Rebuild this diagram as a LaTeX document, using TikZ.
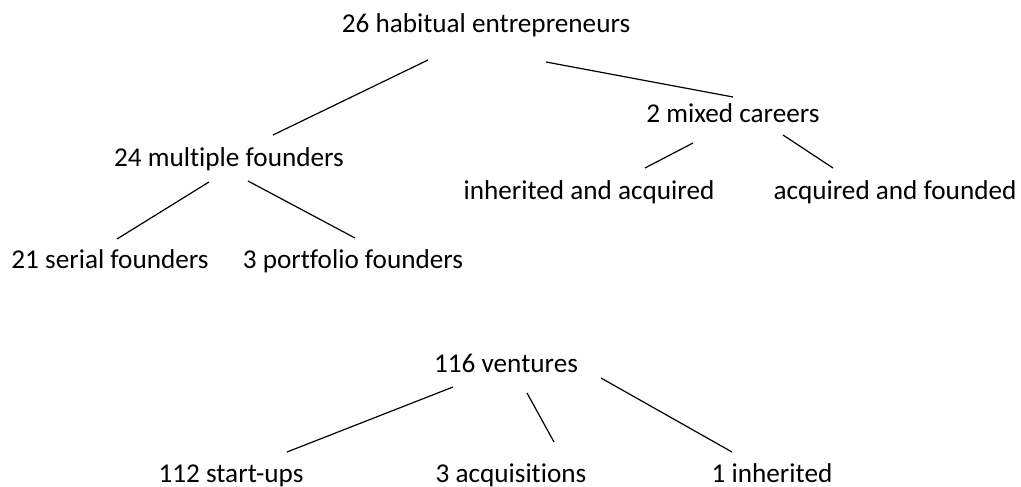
\documentclass[tikz,border=0pt]{standalone}
\usepackage{fontspec}
\setmainfont{Carlito}[Ligatures={NoCommon}]
\begin{document}
\begin{tikzpicture}[x=1pt,y=-1pt,
  lbl/.style={inner sep=0pt, anchor=base, font=\fontsize{27.2}{30}\selectfont},
  conn/.style={line width=1.2pt, black}]
\useasboundingbox (0,0) rectangle (1021,487);
\node[lbl] (top) at (486,33) {26 habitual entrepreneurs};
\node[lbl] (mixed) at (733,122) {2 mixed careers};
\node[lbl] (multi) at (229,166) {24 multiple founders};
\node[lbl] (inhacq) at (589,199) {inherited and acquired};
\node[lbl] (acqfnd) at (895,199) {acquired and founded};
\node[lbl] (serial) at (110,268) {21 serial founders};
\node[lbl] (portf) at (353,268) {3 portfolio founders};
\node[lbl] (vent) at (506,372) {116 ventures};
\node[lbl] (start) at (231,482) {112 start-ups};
\node[lbl] (acqs) at (511,482) {3 acquisitions};
\node[lbl] (inh) at (772,482) {1 inherited};
\draw[conn] ([shift={(-58,27)}]top.base) -- ([shift={(44,-31)}]multi.base);
\draw[conn] ([shift={(60,29)}]top.base) -- ([shift={(0,-25)}]mixed.base);
\draw[conn] ([shift={(-40,21)}]mixed.base) -- ([shift={(56,-31)}]inhacq.base);
\draw[conn] ([shift={(50,13)}]mixed.base) -- ([shift={(-62,-31)}]acqfnd.base);
\draw[conn] ([shift={(-20,16)}]multi.base) -- ([shift={(7,-29)}]serial.base);
\draw[conn] ([shift={(19,15)}]multi.base) -- ([shift={(2,-30)}]portf.base);
\draw[conn] ([shift={(-53,15)}]vent.base) -- ([shift={(56,-30)}]start.base);
\draw[conn] ([shift={(21,21)}]vent.base) -- ([shift={(43,-40)}]acqs.base);
\draw[conn] ([shift={(95,6)}]vent.base) -- ([shift={(-40,-30)}]inh.base);
\end{tikzpicture}
\end{document}
